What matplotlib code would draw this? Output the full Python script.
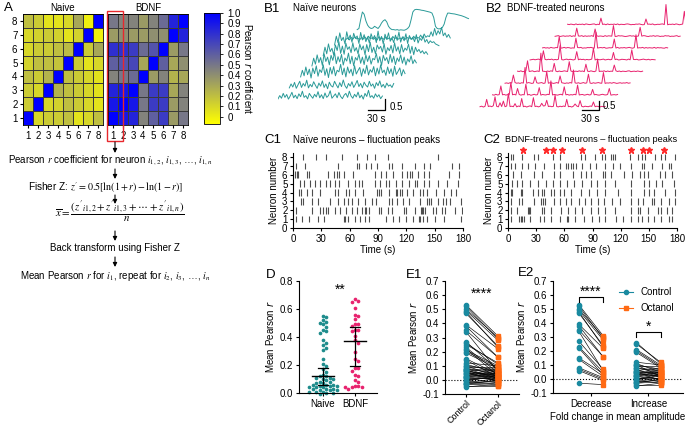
import numpy as np
import matplotlib
matplotlib.use('Agg')
import matplotlib.pyplot as plt
from matplotlib.colors import LinearSegmentedColormap, Normalize
from matplotlib.patches import Rectangle
from matplotlib.lines import Line2D

plt.rcParams['font.family'] = ['Liberation Sans', 'DejaVu Sans']
plt.rcParams['font.size'] = 7
plt.rcParams['axes.linewidth'] = 0.8
plt.rcParams['xtick.major.width'] = 0.8
plt.rcParams['ytick.major.width'] = 0.8
plt.rcParams['xtick.major.size'] = 2.5
plt.rcParams['ytick.major.size'] = 2.5
plt.rcParams['axes.unicode_minus'] = False

# ---------------- data ----------------
# heatmaps, rows listed from neuron 8 (top) down to neuron 1
naive_r = [[0.20, 0.15, 0.05, 0.05, 0.10, 0.30, 0.00, 1.00],
           [0.10, 0.12, 0.15, 0.12, 0.05, 0.12, 1.00, 0.00],
           [0.10, 0.15, 0.15, 0.20, 0.22, 1.00, 0.15, 0.30],
           [0.12, 0.20, 0.20, 0.18, 1.00, 0.15, 0.05, 0.10],
           [0.20, 0.15, 0.25, 1.00, 0.20, 0.15, 0.10, 0.05],
           [0.15, 0.10, 1.00, 0.25, 0.20, 0.15, 0.10, 0.05],
           [0.15, 1.00, 0.10, 0.12, 0.20, 0.15, 0.10, 0.05],
           [1.00, 0.10, 0.15, 0.15, 0.20, 0.05, 0.10, 0.20]]
bdnf_r = [[0.50, 0.45, 0.45, 0.35, 0.45, 0.55, 0.85, 1.00],
          [0.35, 0.40, 0.35, 0.35, 0.40, 0.40, 1.00, 0.85],
          [0.80, 0.80, 0.75, 0.55, 0.65, 1.00, 0.35, 0.50],
          [0.60, 0.65, 0.70, 0.30, 1.00, 0.60, 0.30, 0.40],
          [0.45, 0.50, 0.55, 1.00, 0.35, 0.45, 0.25, 0.30],
          [0.85, 0.90, 1.00, 0.50, 0.75, 0.75, 0.30, 0.45],
          [0.90, 1.00, 0.90, 0.50, 0.75, 0.75, 0.35, 0.45],
          [1.00, 0.90, 0.85, 0.45, 0.60, 0.75, 0.35, 0.50]]
neuron_labels = ['1', '2', '3', '4', '5', '6', '7', '8']

# B1 calcium traces (dF/F x100), bottom trace first, 3 s sampling
b1_traces = [
    [5, 20, 8, 30, 12, 25, 4, 18, 35, 10, 22, 6, 28, 15, 40, 12, 20, 5, 30, 18, 8, 26, 14, 38, 10, 24, 6, 32, 12, 20, 42,
     8, 18, 28, 10, 34, 16, 6, 22, 30, 12, 40, 18, 8, 26, 14, 36, 10, 22, 4, 30, 16, 44, 12, 20, 8, 28, 14, 24, 6, 18],
    [10, 28, 14, 35, 8, 24, 40, 12, 30, 18, 45, 10, 26, 15, 38, 22, 8, 32, 18, 42, 12, 28, 6, 36, 20, 14, 40, 24, 10, 34,
     16, 46, 20, 8, 30, 18, 38, 12, 26, 44, 16, 30, 10, 36, 22, 14, 40, 18, 28, 8, 34, 20, 42, 14, 26, 10, 32, 18, 24, 12, 30],
    [15, 45, 20, 60, 25, 50, 10, 55, 30, 65, 18, 48, 35, 70, 22, 52, 12, 58, 28, 62, 20, 45, 38, 72, 25, 55, 15, 60, 32, 50,
     20, 66, 28, 44, 58, 18, 52, 30, 68, 24, 48, 36, 62, 20, 55, 28, 70, 34, 46, 22, 60, 30, 52, 18, 64, 26, 40, 56, 20, 48, 30],
    [20, 55, 28, 70, 35, 58, 22, 75, 40, 60, 25, 68, 45, 80, 30, 62, 38, 72, 24, 56, 42, 78, 30, 64, 20, 58, 46, 74, 32, 60,
     26, 70, 40, 66, 28, 54, 48, 76, 34, 62, 22, 68, 44, 58, 30, 72, 36, 64, 26, 56, 40, 70, 32, 60, 24, 52, 38, 66, 30, 48, 34],
    [22, 60, 30, 75, 40, 55, 25, 70, 45, 85, 32, 65, 28, 78, 50, 62, 35, 80, 42, 58, 30, 74, 48, 66, 26, 72, 40, 82, 36, 60,
     30, 70, 52, 64, 38, 76, 28, 58, 44, 68, 34, 80, 42, 62, 30, 72, 38, 56, 46, 74, 32, 64, 26, 60, 40, 50, 34, 44, 30, 40, 28],
    [25, 65, 35, 80, 45, 60, 30, 85, 50, 70, 38, 78, 55, 66, 32, 82, 48, 72, 40, 62, 34, 76, 52, 68, 36, 88, 44, 64, 30, 74,
     50, 80, 42, 58, 36, 70, 46, 84, 38, 62, 44, 76, 32, 68, 50, 60, 40, 72, 34, 56, 46, 66, 38, 50, 32, 44, 36, 40, 30, 26, 22],
    [5, 12, 3, 15, 6, 18, 8, 10, 4, 14, 7, 16, 5, 20, 9, 12, 6, 15, 3, 18, 8, 11, 5, 16, 7, 13, 4, 19, 9, 14, 6, 12, 8, 17,
     5, 15, 10, 13, 6, 20, 8, 14, 12, 25, 10, 30, 15, 22, 18, 40, 20, 55, 25, 45, 30, 60, 22, 35, 15, 28, 12],
    [5, 10, 50, 85, 75, 45, 25, 15, 10, 12, 20, 15, 10, 20, 35, 45, 50, 40, 20, 10, 5, 5, 3, 5, 2, 4, 3, 2, 5, 10, 20, 50,
     85, 95, 97, 96, 95, 93, 92, 90, 88, 86, 84, 80, 60, 20, 10, 8, 10, 15, 30, 60, 80, 80, 78, 77, 76, 74, 72, 70, 68, 65,
     62, 58, 55],
]

# B2 calcium traces (dF/F x100), bottom trace first, 3 s sampling
b2_traces = [
    [2, 5, 0, 4, 45, 3, 6, 2, 8, 60, 4, 1, 25, 3, 35, 2, 6, 80, 3, 5, 2, 20, 1, 6, 3, 50, 2, 5, 0, 4, 7, 2, 55, 3, 5, 1, 4,
     22, 6, 8, 40, 3, 5, 2, 4, 70, 3, 1, 5, 2, 6, 3, 45, 2, 4, 0, 5, 18, 6, 2, 38, 4, 1, 5, 3, 2, 6, 4, 30, 2, 5, 3, 1, 4, 2, 3],
    [3, 1, 6, 2, 4, 55, 3, 5, 1, 4, 2, 75, 3, 6, 2, 40, 5, 1, 4, 3, 65, 2, 5, 0, 3, 6, 2, 4, 45, 1, 5, 3, 2, 6, 4, 85, 2, 5,
     3, 1, 4, 6, 2, 50, 3, 5, 1, 4, 2, 6, 3, 60, 2, 4, 5, 1, 3, 6, 2, 4, 35, 3, 5, 2, 1, 4, 6, 3, 2, 5, 40, 1, 3, 4, 2, 5],
    [2, 4, 1, 5, 3, 50, 6, 2, 4, 1, 5, 3, 95, 2, 6, 4, 1, 3, 40, 5, 2, 4, 6, 1, 3, 70, 2, 5, 4, 1, 3, 6, 2, 45, 5, 3, 1, 4,
     2, 6, 3, 80, 4, 2, 5, 1, 3, 6, 2, 4, 55, 3, 1, 5, 2, 4, 6, 3, 2, 65, 1, 4, 3, 5, 2, 6, 4, 1, 3, 5, 2, 4, 3, 6, 2, 4],
    [4, 2, 6, 1, 3, 5, 65, 2, 4, 6, 1, 3, 5, 2, 110, 4, 3, 1, 5, 2, 6, 3, 50, 4, 1, 5, 2, 3, 6, 4, 2, 60, 5, 1, 3, 4, 2, 6,
     3, 5, 1, 45, 4, 2, 6, 3, 1, 5, 75, 2, 4, 3, 6, 1, 5, 2, 4, 3, 40, 6, 2, 5, 1, 4, 3, 2, 5, 6, 1, 3, 4, 2, 5, 3, 1, 4],
    [1, 3, 5, 2, 4, 6, 3, 1, 55, 4, 2, 5, 3, 6, 1, 4, 2, 5, 85, 3, 1, 4, 6, 2, 5, 3, 1, 4, 50, 2, 6, 3, 5, 1, 4, 2, 3, 6,
     70, 1, 5, 3, 2, 4, 6, 1, 3, 5, 2, 4, 45, 3, 6, 1, 2, 5, 4, 3, 1, 6, 2, 60, 4, 3, 5, 1, 2, 4, 6, 3, 2, 5, 1, 4, 3, 2],
    [3, 5, 2, 4, 1, 6, 3, 2, 5, 4, 70, 1, 3, 6, 2, 5, 4, 1, 3, 2, 60, 5, 4, 6, 1, 3, 2, 5, 4, 6, 3, 1, 95, 2, 4, 5, 3, 6,
     1, 2, 4, 3, 5, 55, 2, 6, 1, 4, 3, 5, 2, 4, 6, 3, 1, 5, 80, 2, 4, 3, 6, 1, 5, 2, 4, 3, 2, 6, 1, 5, 3, 4, 2, 1, 5, 3],
    [2, 4, 6, 1, 3, 5, 2, 4, 3, 6, 1, 5, 2, 50, 4, 3, 6, 1, 5, 2, 4, 3, 6, 1, 45, 5, 2, 4, 3, 1, 6, 2, 5, 4, 3, 65, 1, 2,
     6, 4, 5, 3, 1, 2, 4, 6, 3, 5, 1, 2, 4, 55, 3, 6, 5, 2, 1, 4, 3, 6, 2, 5, 4, 1, 3, 2, 6, 4, 5, 1, 3, 2, 4, 6, 1, 3],
    [4, 2, 5, 3, 1, 6, 2, 4, 3, 5, 1, 6, 4, 2, 3, 5, 6, 1, 4, 2, 40, 3, 5, 1, 6, 2, 4, 3, 5, 2, 6, 1, 4, 3, 2, 5, 6, 4, 1,
     3, 2, 5, 4, 6, 3, 1, 2, 35, 4, 5, 3, 6, 1, 2, 4, 3, 5, 6, 2, 120, 1, 4, 3, 5, 2, 6, 4, 1, 3, 5, 80, 2, 4, 3, 6, 2],
]

# C1 peak times (s), neuron 1 .. 8
c1_peaks = [
    [3.6, 9.6, 16.8, 26.7, 33.1, 53.5, 55.2, 58.1, 65.2, 71.3, 76.6, 80.9, 98.7, 105.8, 112.3, 119.4, 127.2, 132.9, 134.4,
     137.2, 141.5, 150.7, 160.4, 178.2],
    [3.6, 20.3, 28.5, 32.1, 34.6, 37.4, 44.5, 49.9, 56.0, 62.4, 67.7, 73.0, 75.9, 77.3, 80.2, 90.9, 93.7, 100.9, 105.1,
     117.6, 120.1, 129.4, 135.4, 136.5, 137.9, 140.1, 148.6, 151.5, 157.9, 161.4, 171.1, 179.3],
    [8.9, 10.7, 19.6, 26.7, 39.2, 47.4, 53.5, 58.1, 62.4, 68.8, 76.6, 83.7, 88.0, 101.6, 105.1, 110.5, 116.5, 123.0,
     134.4, 141.5, 143.6, 146.1, 153.2, 159.3, 162.2, 166.4, 178.2],
    [6.1, 8.9, 14.3, 20.3, 28.5, 44.5, 48.1, 56.0, 59.5, 65.2, 73.8, 89.1, 90.9, 93.7, 101.6, 108.7, 110.5, 113.0, 115.8,
     121.2, 127.2, 134.4, 137.2, 141.5, 151.5, 160.4, 167.5, 172.8],
    [7.1, 11.8, 17.8, 23.2, 28.5, 34.6, 39.2, 44.5, 48.8, 58.1, 65.9, 69.5, 73.0, 86.6, 91.6, 98.0, 101.6, 108.7, 115.8,
     122.3, 129.4, 130.8, 139.0, 144.3, 153.2, 162.9, 174.6],
    [2.5, 3.9, 5.3, 15.3, 16.8, 36.7, 43.8, 46.3, 48.8, 53.5, 63.1, 86.6, 92.7, 98.0, 105.8, 115.8, 121.2, 123.7, 125.8,
     131.9, 139.0, 144.3, 165.0, 175.7],
    [3.6, 13.2, 47.4, 67.7, 70.2, 77.3, 83.0, 89.1, 101.6, 105.1, 115.1, 129.4, 139.0, 145.0, 168.6, 175.7],
    [10.7, 23.9, 34.6, 52.4, 67.7, 78.4, 87.3, 100.9, 154.0],
]

# C2 peak times (s), neuron 1 .. 8
c2_peaks = [
    [2.9, 11.8, 13.6, 15.4, 17.2, 23.6, 34.4, 37.9, 45.8, 55.8, 63.0, 64.4, 70.9, 80.9, 89.5, 96.6, 103.1, 114.5, 122.8,
     131.0, 138.2, 143.2, 148.9, 156.0, 163.2, 171.1, 174.7],
    [3.6, 10.0, 20.8, 22.5, 23.6, 35.8, 38.7, 45.8, 56.5, 63.7, 70.9, 78.7, 88.0, 95.9, 103.1, 113.8, 131.0, 138.2, 140.7,
     148.9, 159.6, 163.2, 169.3, 174.7],
    [3.6, 11.8, 15.4, 27.9, 35.1, 36.9, 39.4, 48.7, 55.8, 61.9, 67.3, 75.2, 81.6, 88.0, 95.9, 102.4, 111.0, 119.2, 131.0,
     138.9, 144.2, 153.2, 156.0, 163.2, 171.8, 177.5],
    [2.9, 4.7, 13.6, 15.4, 26.1, 31.5, 35.8, 37.9, 45.8, 48.7, 55.8, 60.1, 67.3, 78.0, 85.9, 95.2, 103.1, 117.4, 131.0,
     145.3, 150.3, 156.0, 167.5, 177.5],
    [4.7, 9.3, 15.4, 23.6, 31.5, 40.4, 47.6, 55.8, 63.0, 70.2, 78.7, 88.0, 95.2, 103.1, 113.8, 131.0, 145.3, 150.3, 157.5,
     163.9, 176.4],
    [5.7, 14.3, 27.2, 35.8, 48.7, 55.8, 69.1, 78.0, 83.4, 88.8, 101.3, 103.1, 109.5, 123.8, 131.7, 140.7, 145.3, 149.6,
     162.1, 167.5, 174.7],
    [3.6, 7.2, 15.4, 20.8, 28.6, 37.9, 48.7, 55.8, 61.9, 63.7, 66.6, 69.1, 72.7, 78.7, 87.0, 94.1, 103.1, 112.0, 119.2,
     131.0, 143.2, 145.3, 153.2, 163.9, 171.1, 173.9],
    [2.9, 5.7, 15.4, 27.2, 31.5, 47.6, 55.8, 78.0, 81.6, 93.1, 100.2, 103.1, 110.2, 112.0, 113.8, 129.9, 138.2, 143.2,
     146.1, 156.8, 163.2, 166.8, 178.2],
]
sync_peaks = [16, 40, 48, 57, 79, 100, 131, 144, 150, 166]

# D: mean Pearson r per neuron
d_naive = [0.55, 0.54, 0.52, 0.51, 0.50, 0.49, 0.47, 0.45, 0.44, 0.43, 0.38, 0.36, 0.34, 0.32, 0.31, 0.24, 0.21, 0.19,
           0.17, 0.15, 0.13, 0.12, 0.12, 0.11, 0.11, 0.10, 0.10, 0.09, 0.08, 0.08, 0.07, 0.07, 0.06, 0.06, 0.06, 0.05,
           0.05, 0.05, 0.04, 0.04, 0.04, 0.03, 0.03, 0.03, 0.02, 0.02, 0.02, 0.01, 0.01, 0.01, 0.00, 0.00, -0.01]
d_bdnf = [0.67, 0.66, 0.65, 0.61, 0.56, 0.55, 0.53, 0.49, 0.49, 0.48, 0.45, 0.45, 0.44, 0.41, 0.38, 0.36, 0.29, 0.24,
          0.23, 0.18, 0.18, 0.16, 0.13, 0.12, 0.09, 0.08, 0.05, 0.05, 0.04, 0.04, 0.03, 0.04]
d_median = [0.12, 0.37]
d_err_lo = [0.06, 0.19]
d_err_hi = [0.18, 0.47]

# E2: control vs octanol, split by fold change in amplitude
dec_ctrl = [0.53, 0.52, 0.50, 0.49, 0.48, 0.47, 0.39, 0.38, 0.35, 0.34, 0.27, 0.23, 0.22, 0.15, 0.14, 0.08, 0.07, 0.06, -0.03]
dec_oct = [0.31, 0.29, 0.30, 0.28, 0.23, 0.24, 0.22, 0.16, 0.16, 0.06, 0.07, 0.05, 0.03, 0.04, 0.02, 0.01, 0.00, -0.01, -0.04]
inc_ctrl = [0.26, 0.25, 0.21, 0.20, 0.19, 0.12, 0.11, 0.10, 0.10, 0.09, 0.08, 0.08, 0.07, 0.06, 0.06, 0.05, 0.05, 0.04,
            0.04, 0.03, 0.03, 0.02, 0.02, 0.02, 0.01, 0.01, 0.00, 0.00, -0.01, -0.01, -0.02, -0.02, -0.03, -0.03, -0.04, -0.05]
inc_oct = [0.11, 0.12, 0.10, 0.09, 0.08, 0.10, 0.05, 0.07, 0.02, 0.09, 0.04, 0.06, 0.01, 0.08, 0.03, 0.05, -0.01, 0.07,
           0.02, 0.04, 0.06, 0.00, 0.03, 0.05, -0.02, 0.01, 0.04, 0.02, -0.03, 0.03, 0.01, -0.01, 0.00, -0.02, -0.04, -0.03]
e1_ctrl = dec_ctrl + inc_ctrl
e1_oct = dec_oct + inc_oct

teal = '#2a9a98'
pink = '#e8226e'
d_teal = '#1e8c8c'
c_ctrl = '#1a8aa0'
c_oct = '#ff6a13'

# ---------------- layout helpers ----------------
W, H = 685, 428
fig = plt.figure(figsize=(W / 100, H / 100), dpi=100)


def px_axes(l, t, r, b):
    return fig.add_axes([l / W, 1 - b / H, (r - l) / W, (b - t) / H])


def swarm(vals, xs_px, ys_px, d):
    # simple beeswarm: put each point at the nearest free slot
    placed = []
    out = []
    for v in vals:
        y = v * ys_px
        k = 0
        while True:
            cands = [0] if k == 0 else [k, -k]
            ok = None
            for c in cands:
                x = c * d * 0.5
                if all((x - px) ** 2 + (y - py) ** 2 >= d * d for px, py in placed):
                    ok = x
                    break
            if ok is not None:
                placed.append((ok, y))
                out.append(ok / xs_px)
                break
            k += 1
    return np.array(out)


# ---------------- A: heatmaps ----------------
cmap = LinearSegmentedColormap.from_list('yb', [(0, '#ffff00'), (0.5, '#808080'), (1, '#0000ff')])
norm = Normalize(vmin=-0.07, vmax=1.0)
edges = np.arange(0.5, 9)

axn = px_axes(23, 14, 103, 125)
mesh = axn.pcolormesh(edges, edges, np.flipud(np.array(naive_r)), cmap=cmap, norm=norm,
                      edgecolors='#3a3a3a', linewidth=0.5)
axb = px_axes(108, 14, 188, 125)
axb.pcolormesh(edges, edges, np.flipud(np.array(bdnf_r)), cmap=cmap, norm=norm,
               edgecolors='#3a3a3a', linewidth=0.5)
for ax in (axn, axb):
    ax.set_xticks(range(1, 9))
    ax.set_xticklabels(neuron_labels, fontsize=7)
    ax.set_yticks(range(1, 9))
    ax.set_yticklabels(neuron_labels, fontsize=7)
    ax.tick_params(length=2, pad=2)
    for s in ax.spines.values():
        s.set_linewidth(0.6)
axb.tick_params(axis='y', left=False, labelleft=False)
axn.set_title('Naive', fontsize=7, pad=2)
axb.set_title('BDNF', fontsize=7, pad=2)

cax = px_axes(204, 13, 220, 124)
cb = fig.colorbar(mesh, cax=cax)
cb.set_ticks(np.round(np.arange(0, 1.01, 0.1), 1))
cb.set_ticklabels(['0'] + ['%.1f' % v for v in np.arange(0.1, 1.01, 0.1)])
cb.ax.tick_params(labelsize=7, length=2, width=0.6)
cb.outline.set_linewidth(0.6)
cb.set_label('Pearson $r$ coefficient', rotation=270, labelpad=9, fontsize=7)

# ---------------- B1 / B2 traces ----------------
ax1 = px_axes(278, 0, 480, 122)
ax1.set_xlim(0, 202 / 0.58)
ax1.set_ylim(0, 122 / 22)
ax1.axis('off')
for k, tr in enumerate(b1_traces):
    t = k * 19.5 + np.arange(len(tr)) * 3
    ax1.plot(t, 1.0 + k * 0.45 + np.array(tr) / 100, color=teal, lw=0.7)
ax1.plot([154.5, 184.5, 184.5], [0.545, 0.545, 1.045], color='k', lw=0.9)
ax1.text(192, 0.7, '0.5', fontsize=7, va='center')
ax1.text(169.5, 0.15, '30 s', fontsize=7, ha='center', va='center')

ax2 = px_axes(478, 0, 685, 122)
ax2.set_xlim(0, 207 / 0.556)
ax2.set_ylim(0, 122 / 17)
ax2.axis('off')
for k, tr in enumerate(b2_traces):
    t = 3.6 + k * 22.5 + np.arange(len(tr)) * 3
    ax2.plot(t, 0.88 + k * 0.69 + np.array(tr) / 100, color=pink, lw=0.7)
ax2.plot([187.6, 217.6, 217.6], [0.706, 0.706, 1.206], color='k', lw=0.9)
ax2.text(224, 0.93, '0.5', fontsize=7, va='center')
ax2.text(202, 0.17, '30 s', fontsize=7, ha='center', va='center')

# ---------------- C1 / C2 rasters ----------------
for (l, r), peaks in zip([(293, 463), (508, 677)], [c1_peaks, c2_peaks]):
    ax = px_axes(l, 153.5, r, 228)
    ax.eventplot(peaks, lineoffsets=np.arange(1, 9), linelengths=0.75, colors='#4d4d4d', linewidths=0.8)
    ax.set_xlim(0, 180)
    ax.set_ylim(0, 8.4)
    ax.set_xticks(range(0, 181, 30))
    ax.set_yticks(range(0, 9))
    ax.tick_params(labelsize=7, pad=1.5)
    ax.spines['top'].set_visible(False)
    ax.spines['right'].set_visible(False)
    ax.set_xlabel('Time (s)', fontsize=7, labelpad=1)
    ax.set_ylabel('Neuron number', fontsize=7, labelpad=2)
    if peaks is c2_peaks:
        ax.plot(sync_peaks, [8.85] * len(sync_peaks), ls='none', marker='*', color='#ff2a2a',
                ms=5, clip_on=False)

# ---------------- D ----------------
axd = px_axes(299, 281, 377, 393)
for i, (vals, col) in enumerate([(d_naive, d_teal), (d_bdnf, pink)]):
    xs = swarm(vals, 32, 140, 3.4)
    axd.scatter(i + xs, vals, s=7, color=col, lw=0, clip_on=False, zorder=2)
    axd.plot([i - 0.35, i + 0.35], [d_median[i]] * 2, color='k', lw=1.0, zorder=3)
    axd.plot([i, i], [d_err_lo[i], d_err_hi[i]], color='k', lw=0.9, zorder=3)
    for yv in (d_err_lo[i], d_err_hi[i]):
        axd.plot([i - 0.15, i + 0.15], [yv, yv], color='k', lw=0.9, zorder=3)
axd.set_xlim(-0.75, 1.69)
axd.set_ylim(0, 0.8)
axd.set_yticks(np.arange(0, 0.81, 0.2))
axd.set_yticklabels(['%.1f' % v for v in np.arange(0, 0.81, 0.2)])
axd.set_xticks([0, 1])
axd.set_xticklabels(['Naive', 'BDNF'])
axd.tick_params(labelsize=7, pad=1.5)
axd.spines['top'].set_visible(False)
axd.spines['right'].set_visible(False)
axd.set_ylabel('Mean Pearson $r$', fontsize=7, labelpad=3)
axd.text(0.53, 0.735, '**', fontsize=10, ha='center', va='center')


def pearson_axes(ax):
    ax.set_ylim(-0.1, 0.7)
    ax.set_yticks(np.round(np.arange(-0.1, 0.71, 0.1), 1))
    ax.set_yticklabels(['%.1f' % v for v in np.arange(-0.1, 0.71, 0.1)])
    ax.axhline(0, ls=':', color='k', lw=0.8, zorder=0)
    ax.tick_params(labelsize=7, pad=1.5)
    ax.spines['top'].set_visible(False)
    ax.spines['right'].set_visible(False)
    ax.set_ylabel('Mean Pearson $r$', fontsize=7, labelpad=3)


# ---------------- E1 ----------------
axe1 = px_axes(445, 281, 519, 394)
for c, o in zip(e1_ctrl, e1_oct):
    axe1.plot([0, 1], [c, o], color='k', lw=0.45, zorder=1)
axe1.plot([0] * len(e1_ctrl), e1_ctrl, ls='none', marker='o', ms=3, color=c_ctrl, zorder=2)
axe1.plot([1] * len(e1_oct), e1_oct, ls='none', marker='s', ms=3, color=c_oct, zorder=2)
axe1.set_xlim(-0.66, 1.66)
axe1.set_xticks([0, 1])
pearson_axes(axe1)
axe1.set_xticklabels(['Control', 'Octanol'], rotation=45, ha='right', rotation_mode='anchor', fontsize=6.5)
axe1.tick_params(axis='x', pad=1)
axe1.text(0.5, 0.61, '****', fontsize=10, ha='center', va='center')

# ---------------- E2 ----------------
axe2 = px_axes(553, 281, 683, 393)
for g, (cv, ov_) in enumerate([(dec_ctrl, dec_oct), (inc_ctrl, inc_oct)]):
    for c, o in zip(cv, ov_):
        axe2.plot([g - 0.21, g + 0.21], [c, o], color='k', lw=0.45, zorder=1)
    axe2.plot([g - 0.21] * len(cv), cv, ls='none', marker='o', ms=3, color=c_ctrl, zorder=2)
    axe2.plot([g + 0.21] * len(ov_), ov_, ls='none', marker='s', ms=3, color=c_oct, zorder=2)
axe2.plot([-0.21, -0.21, 0.21, 0.21], [0.55, 0.585, 0.585, 0.55], color='k', lw=0.8)
axe2.text(0, 0.625, '****', fontsize=10, ha='center', va='center')
axe2.plot([0.79, 0.79, 1.21, 1.21], [0.30, 0.333, 0.333, 0.30], color='k', lw=0.8)
axe2.text(1, 0.37, '*', fontsize=10, ha='center', va='center')
axe2.set_xlim(-0.66, 1.6)
axe2.set_xticks([0, 1])
axe2.set_xticklabels(['Decrease', 'Increase'])
pearson_axes(axe2)
axe2.set_xlabel('Fold change in mean amplitude', fontsize=7, labelpad=5)
axe2.xaxis.set_label_coords(0.5, -0.17)
handles = [Line2D([], [], color=c_ctrl, marker='o', ms=3, lw=0.8),
           Line2D([], [], color=c_oct, marker='s', ms=3, lw=0.8)]
axe2.legend(handles, ['Control', 'Octanol'], loc='upper left', bbox_to_anchor=(0.48, 0.98),
            frameon=False, fontsize=7, handlelength=1.4, borderaxespad=0, labelspacing=0.6)

# ---------------- overlay: panel letters, flowchart ----------------
ov = fig.add_axes([0, 0, 1, 1])
ov.set_xlim(0, W)
ov.set_ylim(H, 0)
ov.axis('off')

for lab, x, y in [('A', 4, 8), ('B1', 264, 9), ('B2', 486, 9), ('C1', 264, 140), ('C2', 483, 140),
                  ('D', 266, 275), ('E1', 406, 275), ('E2', 518, 273)]:
    ov.text(x, y, lab, fontsize=9.5, va='center', ha='left')
ov.text(293, 8, 'Naïve neurons', fontsize=7, va='center')
ov.text(507, 8, 'BDNF-treated neurons', fontsize=7, va='center')
ov.text(293, 140, 'Naïve neurons – fluctuation peaks', fontsize=7, va='center')
ov.text(505, 140, 'BDNF-treated neurons – fluctuation peaks', fontsize=6.6, va='center')

ov.add_patch(Rectangle((107, 11), 16, 130, fill=False, ec='#e8282d', lw=1.0))

for y0, y1 in [(142, 153), (169, 179), (195, 204), (231, 241), (257, 267)]:
    ov.annotate('', xy=(115, y1), xytext=(115, y0),
                arrowprops=dict(arrowstyle='-|>', color='k', lw=0.8, mutation_scale=6, shrinkA=0, shrinkB=0))

mf = 'stix'
ov.text(110, 160, r'Pearson $r$ coefficient for neuron $i_{1,2}$, $i_{1,3}$, …, $i_{1,n}$',
        fontsize=7, ha='center', va='center', math_fontfamily=mf)
ov.text(106, 188, r"Fisher Z: $z' = 0.5[\ln(1+r) - \ln(1-r)]$",
        fontsize=7.2, ha='center', va='center', math_fontfamily=mf)
ov.text(120, 212, r"$\overline{x} = \dfrac{(z'_{i1,2} + z'_{i1,3} + \cdots + z'_{i1,n})}{n}$",
        fontsize=7.8, ha='center', va='center', math_fontfamily=mf)
ov.text(115, 248, 'Back transform using Fisher Z', fontsize=7, ha='center', va='center')
ov.text(115, 276, r'Mean Pearson $r$ for $i_1$, repeat for $i_2$, $i_3$, …, $i_n$',
        fontsize=7, ha='center', va='center', math_fontfamily=mf)

fig.savefig('out.png', dpi=100)
